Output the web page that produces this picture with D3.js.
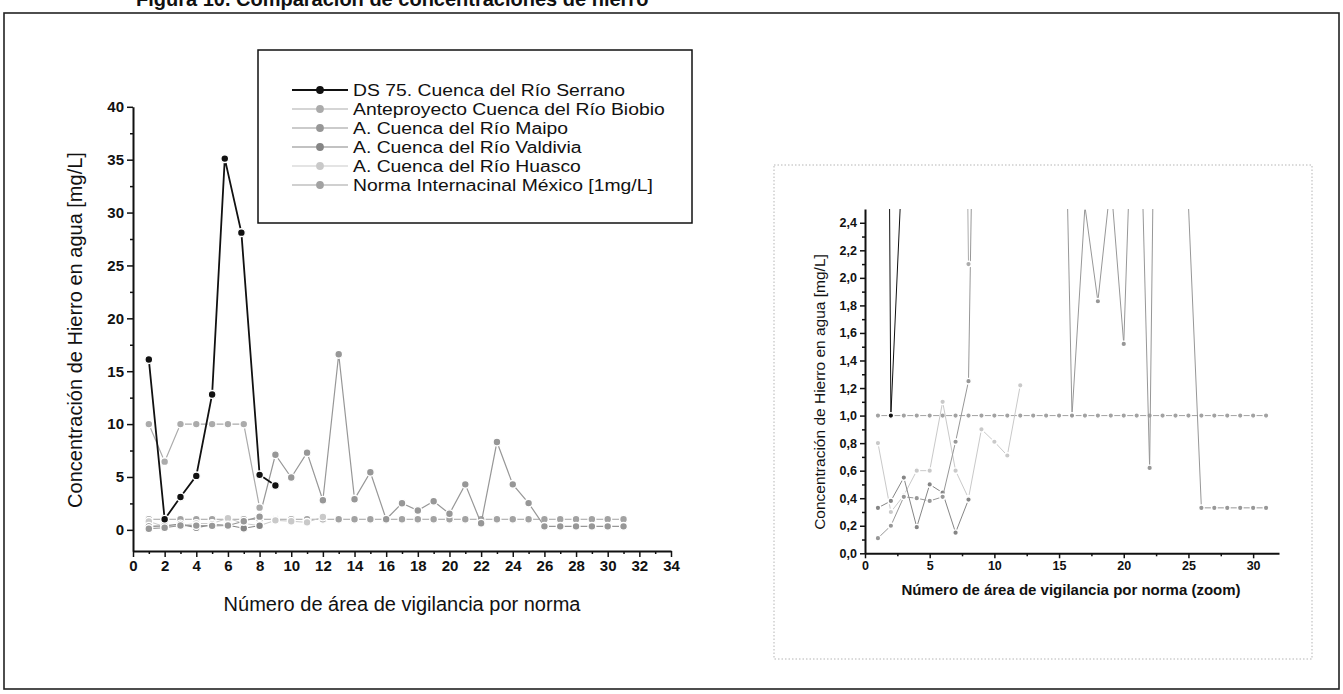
<!DOCTYPE html>
<html><head><meta charset="utf-8">
<script src="https://cdn.jsdelivr.net/npm/d3@7"></script>
<style>
body{margin:0;background:#fff}
svg{display:block}
text{font-family:"Liberation Sans",Arial,sans-serif;fill:#111}
</style>
</head><body>
<svg id="c" width="1343" height="694"></svg>
<script>
// ---------------- DATA ----------------
const figTitle = "Figura 10. Comparación de concentraciones de hierro";
const yTitle = "Concentración de Hierro en agua [mg/L]";
const xTitleMain = "Número de área de vigilancia por norma";
const xTitleZoom = "Número de área de vigilancia por norma (zoom)";

const seriesNames = [
  "DS 75. Cuenca del Río Serrano",
  "Anteproyecto Cuenca del Río Biobio",
  "A. Cuenca del Río Maipo",
  "A. Cuenca del Río Valdivia",
  "A. Cuenca del Río Huasco",
  "Norma Internacinal México [1mg/L]"
];

const serranoX = [1, 2, 3, 4, 5, 5.8, 6.85, 8, 9];
const serranoY = [16.1, 1.0, 3.1, 5.1, 12.8, 35.1, 28.1, 5.2, 4.2];

const biobioX = [1, 2, 3, 4, 5, 6, 7, 8];
const biobioY = [10, 6.45, 10, 10, 10, 10, 10, 2.1];

const maipoX = [1, 2, 3, 4, 5, 6, 7, 8, 9, 10, 11, 12, 13, 14, 15, 16, 17, 18, 19, 20, 21, 22, 23, 24, 25, 26, 27, 28, 29, 30, 31];
const maipoY = [0.11, 0.20, 0.41, 0.40, 0.38, 0.41, 0.81, 1.25, 7.1, 4.95, 7.3, 2.8, 16.6, 2.9, 5.45, 1.0, 2.52, 1.83, 2.7, 1.52, 4.3, 0.62, 8.3, 4.3, 2.53, 0.33, 0.33, 0.33, 0.33, 0.33, 0.33];

const valdiviaX = [1, 2, 3, 4, 5, 6, 7, 8];
const valdiviaY = [0.33, 0.38, 0.55, 0.19, 0.50, 0.44, 0.15, 0.39];

const huascoX = [1, 2, 3, 4, 5, 6, 7, 8, 9, 10, 11, 12];
const huascoY = [0.80, 0.30, 0.42, 0.60, 0.60, 1.10, 0.60, 0.40, 0.90, 0.81, 0.71, 1.22];

const normaX = [1, 2, 3, 4, 5, 6, 7, 8, 9, 10, 11, 12, 13, 14, 15, 16, 17, 18, 19, 20, 21, 22, 23, 24, 25, 26, 27, 28, 29, 30, 31];
const normaY = [1, 1, 1, 1, 1, 1, 1, 1, 1, 1, 1, 1, 1, 1, 1, 1, 1, 1, 1, 1, 1, 1, 1, 1, 1, 1, 1, 1, 1, 1, 1];

const mainXMajor = [0, 2, 4, 6, 8, 10, 12, 14, 16, 18, 20, 22, 24, 26, 28, 30, 32, 34];
const mainXMinor = [1, 3, 5, 7, 9, 11, 13, 15, 17, 19, 21, 23, 25, 27, 29, 31, 33];
const mainYMajor = [0, 5, 10, 15, 20, 25, 30, 35, 40];
const mainYMinor = [2.5, 7.5, 12.5, 17.5, 22.5, 27.5, 32.5, 37.5];
const zoomXMajor = [0, 5, 10, 15, 20, 25, 30];
const zoomXMinor = [2.5, 7.5, 12.5, 17.5, 22.5, 27.5];
const zoomYMajor = [0, 0.2, 0.4, 0.6, 0.8, 1.0, 1.2, 1.4, 1.6, 1.8, 2.0, 2.2, 2.4];
const zoomYMinor = [0.1, 0.3, 0.5, 0.7, 0.9, 1.1, 1.3, 1.5, 1.7, 1.9, 2.1, 2.3];

// ---------------- STYLE ----------------
const seriesColors = ["#111111", "#ababab", "#979797", "#858585", "#c9c9c9", "#a2a2a2"];
const seriesWidthsMain = [1.8, 1.2, 1.2, 1.1, 1.0, 1.0];
const seriesWidthsZoom = [1.0, 1.0, 1.0, 1.0, 1.0, 1.0];

const seriesData = [
  [serranoX, serranoY], [biobioX, biobioY], [maipoX, maipoY],
  [valdiviaX, valdiviaY], [huascoX, huascoY], [normaX, normaY]
];
const drawOrder = [5, 4, 3, 2, 1, 0];

const svg = d3.select("#c");
const font = '"Liberation Sans",Arial,sans-serif';

// outer frame + cut title
svg.append("rect").attr("x", 4).attr("y", 13).attr("width", 1335).attr("height", 676)
  .attr("fill", "none").attr("stroke", "#222").attr("stroke-width", 1.6);
svg.append("text").attr("x", 136).attr("y", 6).attr("font-size", 20).attr("font-weight", "bold").text(figTitle);

function styleAxis(g, fs, bold) {
  g.select(".domain").attr("stroke", "#111").attr("stroke-width", 2);
  g.selectAll(".tick line").attr("stroke", "#111").attr("stroke-width", 1.5);
  g.selectAll(".tick text").attr("font-size", fs).attr("font-family", font)
    .attr("font-weight", bold ? "bold" : "normal").attr("fill", "#111");
}

function drawSeries(g, xs, ys, idx, lw, r) {
  const [xa, ya] = seriesData[idx];
  const pts = xa.map((d, i) => [d, ya[i]]);
  const col = seriesColors[idx];
  g.append("path").datum(pts)
    .attr("d", d3.line().x(d => xs(d[0])).y(d => ys(d[1])))
    .attr("fill", "none").attr("stroke", col).attr("stroke-width", lw);
  g.append("g").selectAll("circle").data(pts).join("circle")
    .attr("cx", d => xs(d[0])).attr("cy", d => ys(d[1])).attr("r", r)
    .attr("fill", col).attr("stroke", "#fff").attr("stroke-width", 1.4);
}

// ---------------- MAIN CHART ----------------
const xM = d3.scaleLinear().domain([0, 34]).range([133, 671]);
const yM = d3.scaleLinear().domain([-2, 40]).range([551, 106.8]);

const mainG = svg.append("g");
drawOrder.forEach(i => drawSeries(mainG, xM, yM, i, seriesWidthsMain[i], 3.9));

const gxM = svg.append("g").attr("transform", `translate(0,${yM(-2)})`)
  .call(d3.axisBottom(xM).tickValues(mainXMajor).tickSize(6).tickSizeOuter(0).tickFormat(d3.format("d")));
styleAxis(gxM, 15, true);
const gxMm = svg.append("g").attr("transform", `translate(0,${yM(-2)})`)
  .call(d3.axisBottom(xM).tickValues(mainXMinor).tickSize(3).tickSizeOuter(0).tickFormat(""));
gxMm.select(".domain").remove();
styleAxis(gxMm, 15, true);

const gyM = svg.append("g").attr("transform", `translate(${xM(0)},0)`)
  .call(d3.axisLeft(yM).tickValues(mainYMajor).tickSize(6).tickSizeOuter(0).tickFormat(d3.format("d")));
styleAxis(gyM, 15, true);
const gyMm = svg.append("g").attr("transform", `translate(${xM(0)},0)`)
  .call(d3.axisLeft(yM).tickValues(mainYMinor).tickSize(3).tickSizeOuter(0).tickFormat(""));
gyMm.select(".domain").remove();
styleAxis(gyMm, 15, true);

svg.append("text").attr("transform", "translate(82,330) rotate(-90)")
  .attr("text-anchor", "middle").attr("font-size", 20).text(yTitle);
svg.append("text").attr("x", (xM(0) + xM(34)) / 2).attr("y", 611)
  .attr("text-anchor", "middle").attr("font-size", 20).text(xTitleMain);

// legend
const leg = svg.append("g");
leg.append("rect").attr("x", 258).attr("y", 50).attr("width", 434).attr("height", 173)
  .attr("fill", "#fff").attr("stroke", "#111").attr("stroke-width", 1.5);
seriesNames.forEach((name, i) => {
  const yy = 90 + i * 19;
  leg.append("line").attr("x1", 292).attr("x2", 348).attr("y1", yy).attr("y2", yy)
    .attr("stroke", seriesColors[i]).attr("stroke-width", i === 0 ? 1.8 : 1.2);
  leg.append("circle").attr("cx", 320).attr("cy", yy).attr("r", 3.9).attr("fill", seriesColors[i]);
  leg.append("text").attr("transform", `translate(353,${yy}) scale(1.18,1)`)
    .attr("dy", "0.36em").attr("font-size", 16.4).text(name);
});

// ---------------- ZOOM CHART ----------------
svg.append("rect").attr("x", 774).attr("y", 165).attr("width", 538).attr("height", 494)
  .attr("fill", "none").attr("stroke", "#b5b5b5").attr("stroke-width", 1).attr("stroke-dasharray", "1.5,2");

const xZ = d3.scaleLinear().domain([0, 32]).range([865, 1279]);
const yZ = d3.scaleLinear().domain([0, 2.5]).range([553.3, 209]);

svg.append("clipPath").attr("id", "zclip").append("rect")
  .attr("x", xZ(0)).attr("y", yZ(2.5)).attr("width", xZ(32) - xZ(0)).attr("height", yZ(0) - yZ(2.5));
const zG = svg.append("g").attr("clip-path", "url(#zclip)");
drawOrder.forEach(i => drawSeries(zG, xZ, yZ, i, seriesWidthsZoom[i], 2.8));

const commaFmt = d => d3.format(".1f")(d).replace(".", ",");
const gxZ = svg.append("g").attr("transform", `translate(0,${yZ(0)})`)
  .call(d3.axisBottom(xZ).tickValues(zoomXMajor).tickSize(5).tickSizeOuter(0).tickFormat(d3.format("d")));
styleAxis(gxZ, 12.5, true);
const gxZm = svg.append("g").attr("transform", `translate(0,${yZ(0)})`)
  .call(d3.axisBottom(xZ).tickValues(zoomXMinor).tickSize(3).tickSizeOuter(0).tickFormat(""));
gxZm.select(".domain").remove();
styleAxis(gxZm, 12.5, true);

const gyZ = svg.append("g").attr("transform", `translate(${xZ(0)},0)`)
  .call(d3.axisLeft(yZ).tickValues(zoomYMajor).tickSize(5).tickSizeOuter(0).tickFormat(commaFmt));
styleAxis(gyZ, 12.5, true);
const gyZm = svg.append("g").attr("transform", `translate(${xZ(0)},0)`)
  .call(d3.axisLeft(yZ).tickValues(zoomYMinor).tickSize(3).tickSizeOuter(0).tickFormat(""));
gyZm.select(".domain").remove();
styleAxis(gyZm, 12.5, true);

svg.append("text").attr("transform", "translate(825,392) rotate(-90)")
  .attr("text-anchor", "middle").attr("font-size", 15.5).text(yTitle);
svg.append("text").attr("x", 1071).attr("y", 595)
  .attr("text-anchor", "middle").attr("font-size", 15).attr("font-weight", "bold").text(xTitleZoom);
</script>
</body></html>
